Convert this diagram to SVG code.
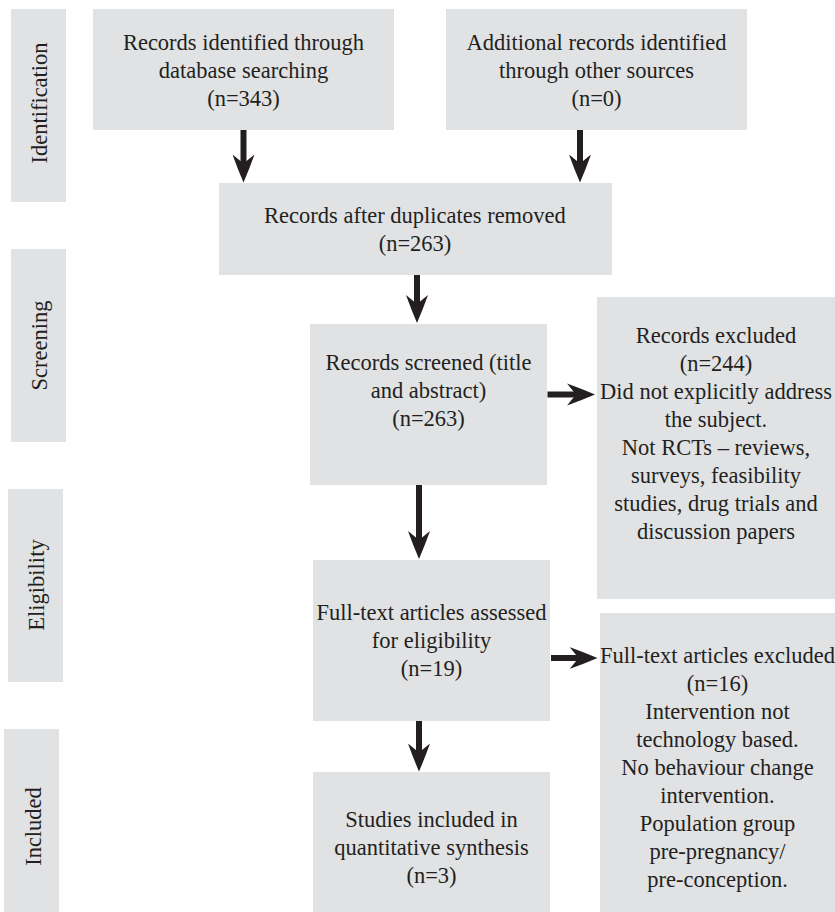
<svg xmlns="http://www.w3.org/2000/svg" width="835" height="912" viewBox="0 0 835 912">
<style>
.box{fill:#e1e2e4;}
.t{font-family:"Liberation Serif","Times New Roman",serif;font-size:22.5px;fill:#231f20;text-anchor:middle;}
.c{stroke:#231f20;stroke-width:6;fill:none;}
</style>
<defs>
<marker id="ah" markerUnits="userSpaceOnUse" markerWidth="30" markerHeight="24" viewBox="0 -12 30 24" refX="10" refY="0" orient="auto">
<path d="M0,-11 Q14,-6 28,0 Q14,6 0,11 L9,0 Z" fill="#231f20"/>
</marker>
</defs>
<rect width="835" height="912" fill="#ffffff"/>
<g id="stage-identification"><rect class="box" x="11" y="9" width="55" height="193"/><text class="t" transform="translate(47,103) rotate(-90)">Identification</text></g>
<g id="stage-screening"><rect class="box" x="11" y="249" width="55" height="193"/><text class="t" transform="translate(47,345.5) rotate(-90)">Screening</text></g>
<g id="stage-eligibility"><rect class="box" x="8" y="489" width="55" height="193"/><text class="t" transform="translate(44,585) rotate(-90)">Eligibility</text></g>
<g id="stage-included"><rect class="box" x="4" y="729" width="55" height="183"/><text class="t" transform="translate(41,826.5) rotate(-90)">Included</text></g>
<g id="n-database"><rect class="box" x="93" y="9" width="301" height="121"/><text class="t" x="243.5" y="50">Records identified through</text><text class="t" x="243.5" y="78">database searching</text><text class="t" x="243.5" y="106">(n=343)</text></g>
<g id="n-other"><rect class="box" x="446" y="9" width="301" height="121"/><text class="t" x="596.5" y="50">Additional records identified</text><text class="t" x="596.5" y="78">through other sources</text><text class="t" x="596.5" y="106">(n=0)</text></g>
<g id="n-duplicates"><rect class="box" x="219" y="183" width="393" height="92"/><text class="t" x="415" y="223">Records after duplicates removed</text><text class="t" x="415" y="251">(n=263)</text></g>
<g id="n-screened"><rect class="box" x="310" y="324" width="237" height="161"/><text class="t" x="428.5" y="370">Records screened (title</text><text class="t" x="428.5" y="398">and abstract)</text><text class="t" x="428.5" y="426">(n=263)</text></g>
<g id="n-excluded"><rect class="box" x="597" y="297" width="238" height="302"/><text class="t" x="716" y="343">Records excluded</text><text class="t" x="716" y="371">(n=244)</text><text class="t" x="716" y="399">Did not explicitly address</text><text class="t" x="716" y="427">the subject.</text><text class="t" x="716" y="455">Not RCTs – reviews,</text><text class="t" x="716" y="483">surveys, feasibility</text><text class="t" x="716" y="511">studies, drug trials and</text><text class="t" x="716" y="539">discussion papers</text></g>
<g id="n-fulltext"><rect class="box" x="313" y="560" width="237" height="161"/><text class="t" x="431.5" y="620">Full-text articles assessed</text><text class="t" x="431.5" y="648">for eligibility</text><text class="t" x="431.5" y="676">(n=19)</text></g>
<g id="n-included"><rect class="box" x="313" y="772" width="237" height="140"/><text class="t" x="431.5" y="827">Studies included in</text><text class="t" x="431.5" y="855">quantitative synthesis</text><text class="t" x="431.5" y="883">(n=3)</text></g>
<g id="n-ftexcluded"><rect class="box" x="600" y="613" width="235" height="299"/><text class="t" x="717.5" y="663">Full-text articles excluded</text><text class="t" x="717.5" y="691">(n=16)</text><text class="t" x="717.5" y="719">Intervention not</text><text class="t" x="717.5" y="747">technology based.</text><text class="t" x="717.5" y="775">No behaviour change</text><text class="t" x="717.5" y="803">intervention.</text><text class="t" x="717.5" y="831">Population group</text><text class="t" x="717.5" y="859">pre-pregnancy/</text><text class="t" x="717.5" y="887">pre-conception.</text></g>
<g id="connectors">
<line class="c" x1="243.5" y1="130" x2="243.5" y2="164.5" marker-end="url(#ah)"/>
<line class="c" x1="580" y1="130" x2="580" y2="164.5" marker-end="url(#ah)"/>
<line class="c" x1="417" y1="275" x2="417" y2="305" marker-end="url(#ah)"/>
<line class="c" x1="419" y1="485" x2="419" y2="541" marker-end="url(#ah)"/>
<line class="c" x1="419" y1="721" x2="419" y2="753.5" marker-end="url(#ah)"/>
<line class="c" x1="547.5" y1="394.5" x2="577" y2="394.5" marker-end="url(#ah)"/>
<line class="c" x1="551" y1="658" x2="579.5" y2="658" marker-end="url(#ah)"/>
</g>
</svg>
